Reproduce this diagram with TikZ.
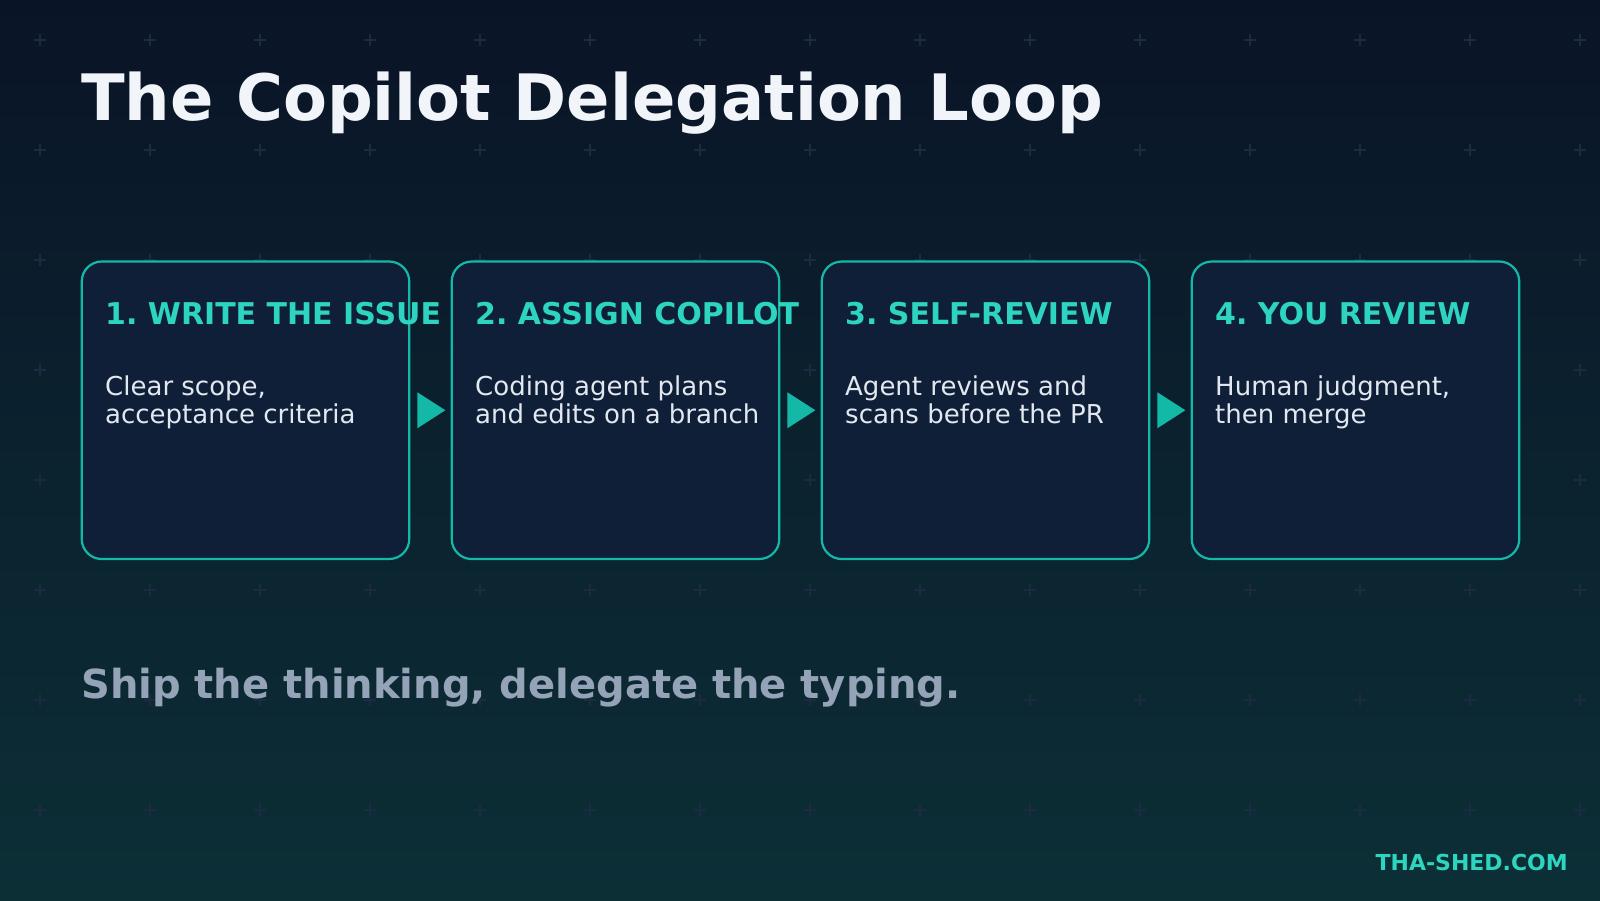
\documentclass[tikz,border=0pt]{standalone}
\usepackage{fontspec}
\setmainfont{DejaVu Sans}
\usetikzlibrary{calc}
\frenchspacing
\definecolor{bgtop}{HTML}{0A1427}
\definecolor{bgbot}{HTML}{0C2F36}
\definecolor{plusc}{HTML}{1C2B42}
\definecolor{boxfill}{HTML}{0F1F37}
\definecolor{tealstroke}{HTML}{14B8A6}
\definecolor{tealtext}{HTML}{2DD4BF}
\definecolor{titlec}{HTML}{F1F5F9}
\definecolor{bodyc}{HTML}{E2E8F0}
\definecolor{tagc}{HTML}{94A3B8}
\tikzset{
  stepbox/.style={draw=tealstroke, fill=boxfill, line width=2.2pt, rounded corners=20pt,
    minimum width=327.5pt, minimum height=297.5pt, inner sep=0pt},
  plusmark/.style={draw=plusc, line width=1.4pt},
  headtxt/.style={anchor=base west, inner sep=0pt, text=tealtext, font=\fontsize{30}{30}\selectfont\bfseries},
  bodytxt/.style={anchor=base west, inner sep=0pt, text=bodyc, font=\fontsize{26}{28.5}\selectfont},
  arrowtri/.style={fill=tealstroke},
}
\begin{document}
\begin{tikzpicture}[x=1pt,y=-1pt]
\useasboundingbox (0,0) rectangle (1600,900);
\shade[top color=bgtop, bottom color=bgbot] (0,0) rectangle (1600,900);
\foreach \x in {40,150,...,1580} {
  \foreach \y in {40,150,...,810} {
    \draw[plusmark] (\x-6,\y) -- (\x+6,\y) (\x,\y-6) -- (\x,\y+6);
  }
}
\node[anchor=base west, inner sep=0pt, text=titlec, font=\fontsize{64}{64}\selectfont\bfseries] (title) at (81,120) {The Copilot Delegation Loop};

\node[stepbox] (b1) at (245.5,410.25) {};
\node[stepbox] (b2) at (615.5,410.25) {};
\node[stepbox] (b3) at (985.5,410.25) {};
\node[stepbox] (b4) at (1355.5,410.25) {};

\foreach \i/\j in {b1/b2, b2/b3, b3/b4} {
  \fill[arrowtri] ($(\i.east)+(7,-18)$) -- ++(28,18) -- ++(-28,18) -- cycle;
}

\node[headtxt] (h1) at (105,324) {1. WRITE THE ISSUE};
\node[headtxt] (h2) at (475,324) {2. ASSIGN COPILOT};
\node[headtxt] (h3) at (845,324) {3. SELF-REVIEW};
\node[headtxt] (h4) at (1215,324) {4. YOU REVIEW};

\node[bodytxt] (t1a) at (105,395) {Clear scope,};
\node[bodytxt] (t1b) at (105,423.5) {acceptance criteria};
\node[bodytxt] (t2a) at (475,395) {Coding agent plans};
\node[bodytxt] (t2b) at (475,423.5) {and edits on a branch};
\node[bodytxt] (t3a) at (845,395) {Agent reviews and};
\node[bodytxt] (t3b) at (845,423.5) {scans before the PR};
\node[bodytxt] (t4a) at (1215,395) {Human judgment,};
\node[bodytxt] (t4b) at (1215,423.5) {then merge};

\node[anchor=base west, inner sep=0pt, text=tagc, font=\fontsize{40}{40}\selectfont\bfseries] (tag) at (81,698) {Ship the thinking, delegate the typing.};
\node[anchor=base east, inner sep=0pt, text=tealtext, font=\fontsize{22}{22}\selectfont\bfseries] (foot) at (1568,870) {THA-SHED.COM};
\end{tikzpicture}
\end{document}
